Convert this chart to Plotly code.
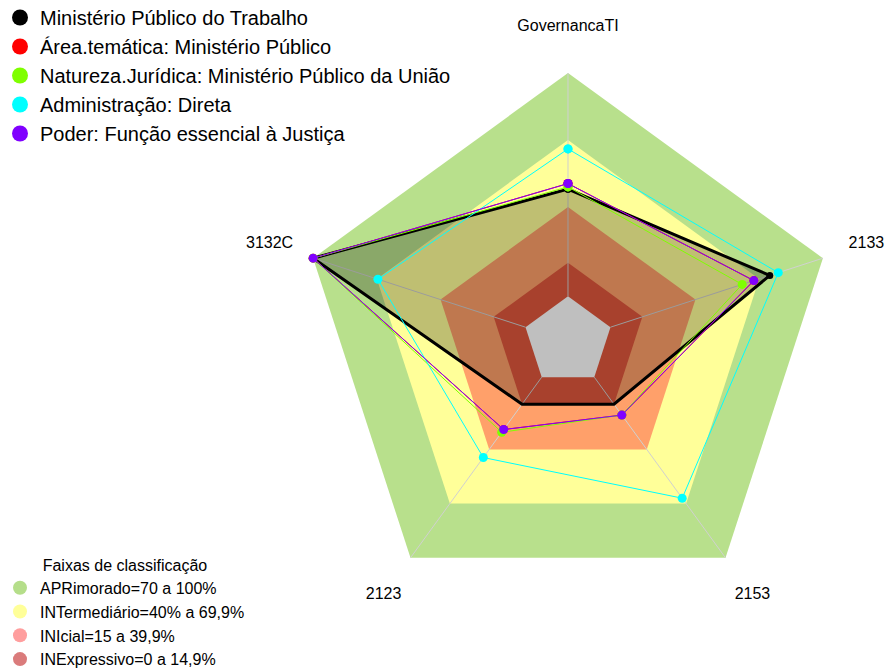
import plotly.graph_objects as go

# ---- data ----
categories = ["GovernancaTI", "2133", "2153", "2123", "3132C"]

series_names = [
    "Ministério Público do Trabalho",
    "Área.temática: Ministério Público",
    "Natureza.Jurídica: Ministério Público da União",
    "Administração: Direta",
    "Poder: Função essencial à Justiça",
]
mpt_values = [48, 75, 15, 15, 100]
area_values = [50.5, 67.5, 21, 29, 100]
natureza_values = [49, 62, 21, 30.5, 100]
administracao_values = [66, 79, 67, 44.5, 69.5]
poder_values = [50.5, 67.5, 21, 29, 100]
series_values = [mpt_values, area_values, natureza_values, administracao_values, poder_values]
series_colors = ["#000000", "#FF0000", "#7FFF00", "#00FFFF", "#8000FF"]

band_names = [
    "APRimorado=70 a 100%",
    "INTermediário=40% a 69,9%",
    "INIcial=15 a 39,9%",
    "INExpressivo=0 a 14,9%",
]
band_upper = [100, 70, 40, 15]
band_floor = 0
band_fill = ["#B8E08C", "#FFFF99", "#FFA06A", "#E0573C"]
band_legend_colors = ["#B5DE8A", "#FFFF99", "#FF9E9E", "#DA7B7B"]

radial_min, scale_max, radial_max = -20, 100, 125
label_radius = 120.5  # where the category labels sit (radial units)

FONT = "Liberation Sans, Arial, sans-serif"


def closed(vals):
    return list(vals) + [vals[0]]


theta_closed = closed(categories)

fig = go.Figure()

# classification bands
for up, col in zip(band_upper, band_fill):
    fig.add_trace(go.Scatterpolar(
        r=closed([up] * len(categories)), theta=theta_closed,
        mode="lines", fill="toself", fillcolor=col,
        line=dict(width=0, color=col), showlegend=False, hoverinfo="skip",
    ))
# empty core (-20 .. 0)
fig.add_trace(go.Scatterpolar(
    r=closed([band_floor] * len(categories)), theta=theta_closed,
    mode="lines", fill="toself", fillcolor="#FFFFFF",
    line=dict(width=0, color="#FFFFFF"), showlegend=False, hoverinfo="skip",
))
# spokes
for cat in categories:
    fig.add_trace(go.Scatterpolar(
        r=[band_floor, scale_max], theta=[cat, cat], mode="lines",
        line=dict(color="#D0D0D0", width=1), showlegend=False, hoverinfo="skip",
    ))

# data series
for i, (name, vals, col) in enumerate(zip(series_names, series_values, series_colors)):
    main = i == 0
    fig.add_trace(go.Scatterpolar(
        r=closed(vals), theta=theta_closed,
        mode="lines+markers",
        fill="toself" if main else None,
        fillcolor="rgba(0,0,0,0.25)" if main else None,
        line=dict(color=col, width=3 if main else 1),
        marker=dict(color=col, size=7 if main else 9),
        name=name, showlegend=False,
    ))

# category labels
fig.add_trace(go.Scatterpolar(
    r=[label_radius] * len(categories), theta=categories,
    mode="text", text=categories, textposition="middle center",
    textfont=dict(size=16, family=FONT, color="#000000"),
    cliponaxis=False, showlegend=False, hoverinfo="skip",
))

# legend entries (markers only)
for name, col in zip(series_names, series_colors):
    fig.add_trace(go.Scatterpolar(
        r=[None], theta=[None], mode="markers",
        marker=dict(color=col, size=16), name=name, legend="legend",
    ))
for name, col in zip(band_names, band_legend_colors):
    fig.add_trace(go.Scatterpolar(
        r=[None], theta=[None], mode="markers",
        marker=dict(color=col, size=14), name=name, legend="legend2",
    ))

# the page body adds an 8px offset, so the figure is sized to fit the window
W, H = 886, 660
cx, cy = 560, 333                    # centre in figure pixels
px_per_unit = 268 / (scale_max - radial_min)
outer = (radial_max - radial_min) * px_per_unit
half_x = W - cx

fig.update_layout(
    width=W, height=H,
    margin=dict(l=0, r=0, t=0, b=0, autoexpand=False),
    paper_bgcolor="white",
    font=dict(family=FONT, color="#000000"),
    polar=dict(
        domain=dict(x=[(cx - half_x) / W, 1],
                    y=[max(0, (H - cy - outer) / H), min(1, (H - cy + outer) / H)]),
        bgcolor="rgba(0,0,0,0)",
        gridshape="linear",
        radialaxis=dict(range=[radial_min, radial_max], visible=False),
        angularaxis=dict(
            rotation=90, direction="clockwise",
            showline=False, showgrid=False,
            ticks="", showticklabels=False,
        ),
    ),
    legend=dict(
        x=-8 / W, y=1 + 10 / H, xanchor="left", yanchor="top",
        font=dict(size=20, family=FONT, color="#000000"),
        bgcolor="rgba(0,0,0,0)", itemsizing="trace",
    ),
    legend2=dict(
        x=-8 / W, y=-8 / H, xanchor="left", yanchor="bottom",
        title=dict(text="Faixas de classificação", side="top center",
                   font=dict(size=16, family=FONT, color="#000000")),
        font=dict(size=16, family=FONT, color="#000000"),
        bgcolor="rgba(0,0,0,0)", itemsizing="trace",
    ),
)

fig.write_html("out.html")
